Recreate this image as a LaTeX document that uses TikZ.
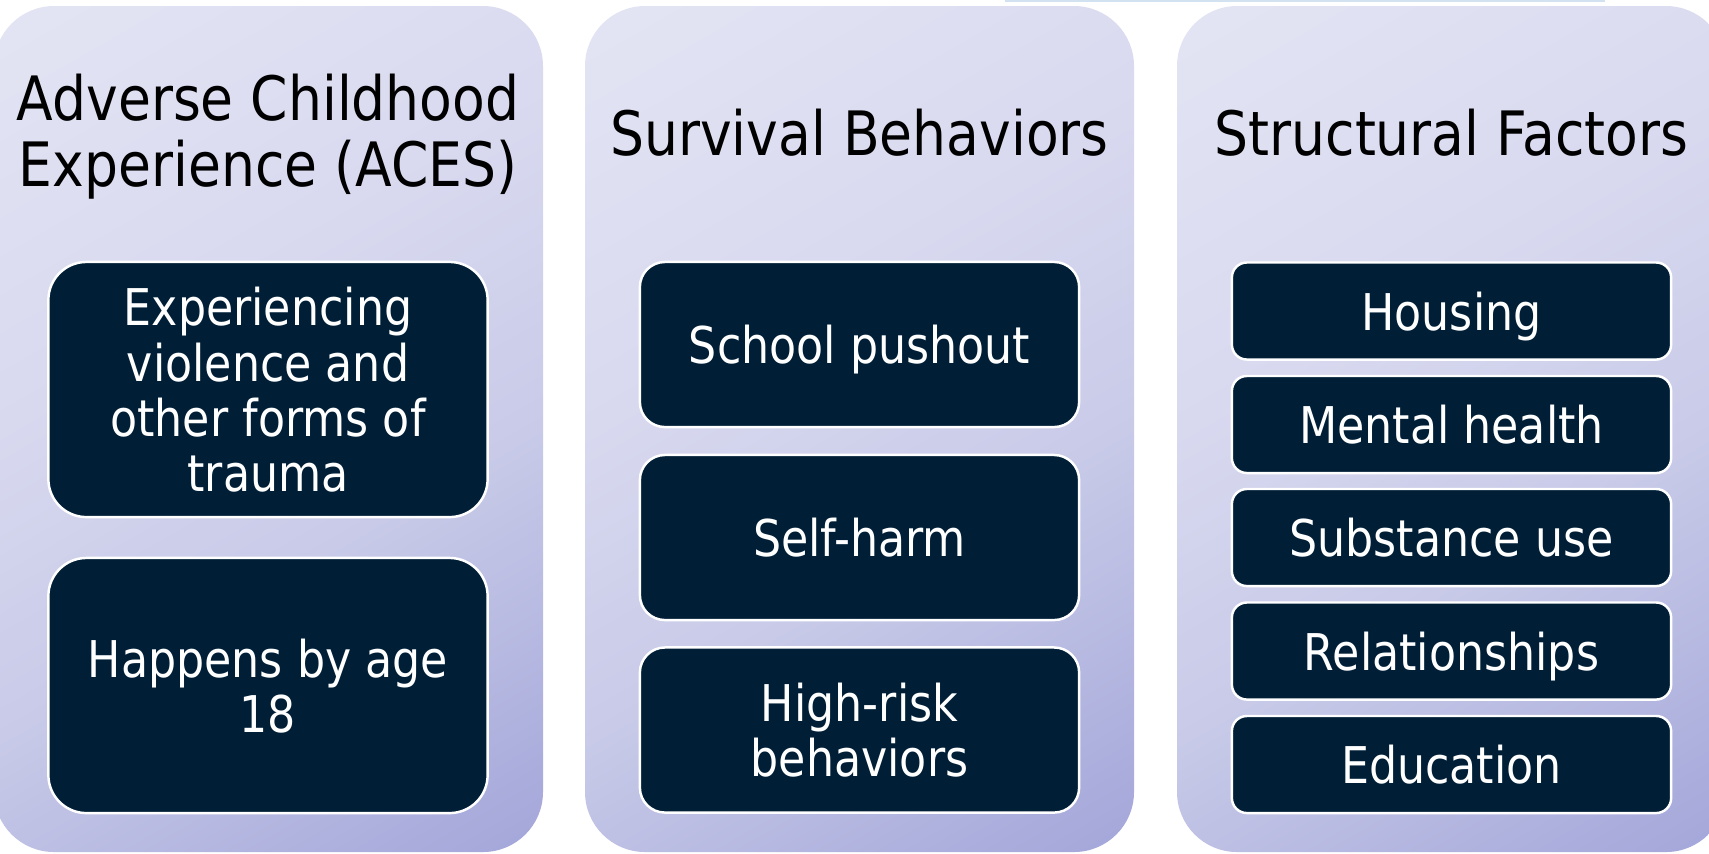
\documentclass[tikz,border=0pt]{standalone}
\usepackage{fontspec}
\setmainfont[FakeStretch=0.875]{DejaVu Sans}
\usetikzlibrary{positioning}

\definecolor{paneltop}{HTML}{E3E4F3}
\definecolor{paneltr}{HTML}{D8D9EF}
\definecolor{panelbl}{HTML}{C8CAE8}
\definecolor{panelbot}{HTML}{A3A6D9}
\definecolor{boxnavy}{HTML}{001F37}
\definecolor{rimblue}{HTML}{D3E2F0}

% light upper left, dark lower right once turned by 30 degrees
\pgfdeclareverticalshading{panelshade}{100bp}{color(0bp)=(panelbot); color(15.85bp)=(panelbot);
	color(40.85bp)=(panelbl); color(59.15bp)=(paneltr); color(84.15bp)=(paneltop); color(100bp)=(paneltop)}

\begin{document}
\begin{tikzpicture}[x=0.01cm, y=-0.01cm,
	panel/.style={rounded corners=0.6cm, shading=panelshade, shading angle=30},
	heading/.style={align=center, text=black, font=\fontsize{17.4}{18.8}\selectfont},
	item/.style={draw=white, line width=0.7pt, fill=boxnavy, text=white, align=center, text depth=0pt,
		minimum width=4.39cm, font=\fontsize{14.4}{15.7}\selectfont}]
	
	\useasboundingbox (0,0) rectangle (1709,853);
	
	% the three columns
	\path[panel] (-6,6) rectangle (543,852);
	\path[panel] (585,6) rectangle (1134,852);
	\path[panel] (1177,6) rectangle (1726,852);
	\draw[rimblue, line width=0.5pt] (1005,1) -- (1605,1);
	
	% left column: ACES
	\node[heading] (acesT) at (268,137) {Adverse Childhood\\Experience (ACES)};
	\node[item, minimum height=2.55cm, rounded corners=0.38cm] (trauma) at (268,389.5)
		{Experiencing\\violence and\\other forms of\\trauma};
	\node[item, minimum height=2.55cm, rounded corners=0.38cm] (age) at (268,685.5)
		{Happens by age\\18};
	
	% middle column: survival behaviors
	\node[heading] (survT) at (859.5,133) {Survival Behaviors};
	\node[item, minimum height=1.65cm, rounded corners=0.25cm] (pushout) at (859.5,344.5) {School pushout};
	\node[item, minimum height=1.65cm, rounded corners=0.25cm] (harm) at (859.5,537.5) {Self-harm};
	\node[item, minimum height=1.65cm, rounded corners=0.25cm] (risk) at (859.5,730) {High-risk\\behaviors};
	
	% right column: structural factors
	\node[heading] (structT) at (1451.5,133) {Structural Factors};
	\node[item, minimum height=0.97cm, rounded corners=0.15cm] (housing) at (1451.5,311) {Housing};
	\node[item, minimum height=0.97cm, rounded corners=0.15cm] (mental) at (1451.5,424.5) {Mental health};
	\node[item, minimum height=0.97cm, rounded corners=0.15cm] (substance) at (1451.5,537.5) {Substance use};
	\node[item, minimum height=0.97cm, rounded corners=0.15cm] (relation) at (1451.5,651) {Relationships};
	\node[item, minimum height=0.97cm, rounded corners=0.15cm] (educ) at (1451.5,764.5) {Education};
	
\end{tikzpicture}
\end{document}
